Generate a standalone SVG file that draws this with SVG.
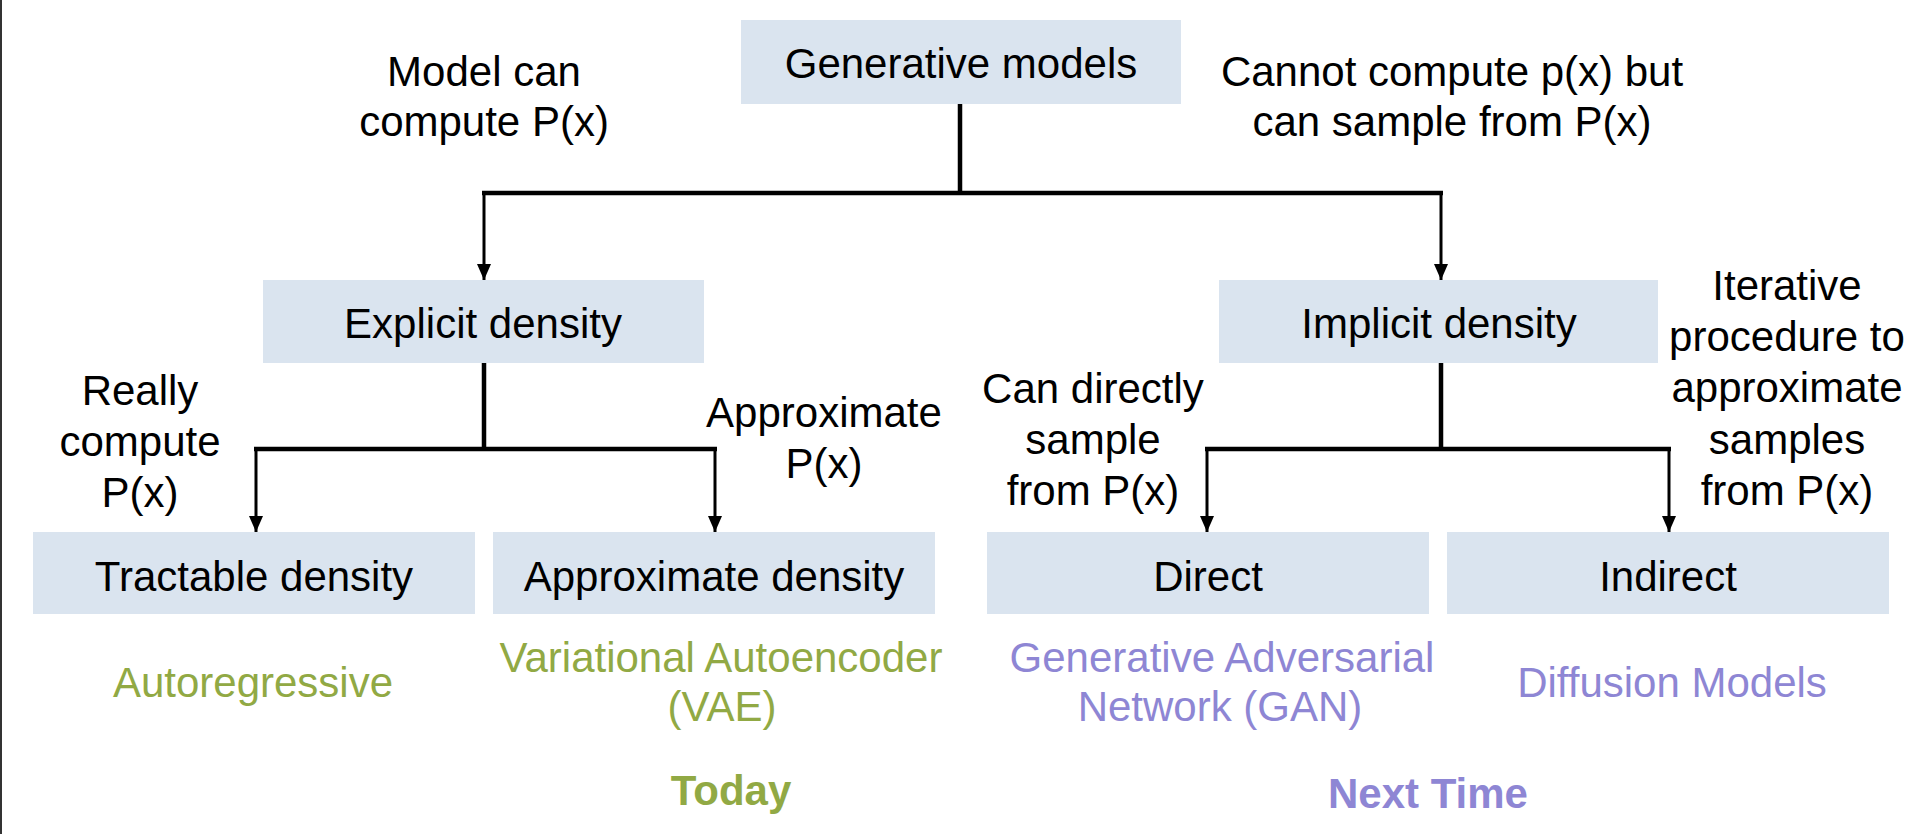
<svg xmlns="http://www.w3.org/2000/svg" width="1914" height="834" viewBox="0 0 1914 834">
<style>
.box{fill:#DAE4EF;}
.t{font-family:"Liberation Sans",Arial,sans-serif;font-size:42px;fill:#000;text-anchor:middle;}
.g{fill:#91A944;}
.p{fill:#8E86D4;}
.b{font-weight:bold;}
.trunk{stroke:#000;stroke-width:4.5;fill:none;stroke-linejoin:miter;}
.drop{stroke:#000;stroke-width:3;fill:none;}
</style>
<defs>
<marker id="ah" viewBox="0 0 16 14" refX="16" refY="7" markerWidth="16" markerHeight="14" markerUnits="userSpaceOnUse" orient="auto">
<path d="M0,0 L16,7 L0,14 z" fill="#000"/>
</marker>
</defs>
<rect x="0" y="0" width="1914" height="834" fill="#fff"/>
<line x1="1" y1="0" x2="1" y2="834" stroke="#333" stroke-width="2"/>

<g id="connectors">
<path class="trunk" d="M960,104 V193 M482,193 H1443"/>
<line class="drop" x1="484" y1="193" x2="484" y2="280" marker-end="url(#ah)"/>
<line class="drop" x1="1441" y1="193" x2="1441" y2="280" marker-end="url(#ah)"/>
<path class="trunk" d="M484,363 V449 M254,449 H717"/>
<line class="drop" x1="256" y1="449" x2="256" y2="532" marker-end="url(#ah)"/>
<line class="drop" x1="715" y1="449" x2="715" y2="532" marker-end="url(#ah)"/>
<path class="trunk" d="M1441,363 V449 M1205,449 H1671"/>
<line class="drop" x1="1207" y1="449" x2="1207" y2="532" marker-end="url(#ah)"/>
<line class="drop" x1="1669" y1="449" x2="1669" y2="532" marker-end="url(#ah)"/>
</g>

<g id="generative">
<rect class="box" x="741" y="20" width="440" height="84"/>
<text class="t" x="961" y="78">Generative models</text>
</g>
<g id="explicit">
<rect class="box" x="263" y="280" width="441" height="83"/>
<text class="t" x="483" y="338">Explicit density</text>
</g>
<g id="implicit">
<rect class="box" x="1219" y="280" width="439" height="83"/>
<text class="t" x="1439" y="338">Implicit density</text>
</g>
<g id="tractable">
<rect class="box" x="33" y="532" width="442" height="82"/>
<text class="t" x="254" y="591">Tractable density</text>
</g>
<g id="approximate">
<rect class="box" x="493" y="532" width="442" height="82"/>
<text class="t" x="714" y="591">Approximate density</text>
</g>
<g id="direct">
<rect class="box" x="987" y="532" width="442" height="82"/>
<text class="t" x="1208" y="591">Direct</text>
</g>
<g id="indirect">
<rect class="box" x="1447" y="532" width="442" height="82"/>
<text class="t" x="1668" y="591">Indirect</text>
</g>

<g id="labels">
<text class="t" x="484" y="86">Model can</text>
<text class="t" x="484" y="136">compute P(x)</text>
<text class="t" x="1452" y="86">Cannot compute p(x) but</text>
<text class="t" x="1452" y="136">can sample from P(x)</text>
<text class="t" x="140" y="405">Really</text>
<text class="t" x="140" y="456">compute</text>
<text class="t" x="140" y="507">P(x)</text>
<text class="t" x="824" y="427">Approximate</text>
<text class="t" x="824" y="478">P(x)</text>
<text class="t" x="1093" y="403">Can directly</text>
<text class="t" x="1093" y="454">sample</text>
<text class="t" x="1093" y="505">from P(x)</text>
<text class="t" x="1787" y="300">Iterative</text>
<text class="t" x="1787" y="351">procedure to</text>
<text class="t" x="1787" y="402">approximate</text>
<text class="t" x="1787" y="454">samples</text>
<text class="t" x="1787" y="505">from P(x)</text>
</g>

<g id="examples">
<text class="t g" x="253" y="697">Autoregressive</text>
<text class="t g" x="721" y="672">Variational Autoencoder</text>
<text class="t g" x="722" y="721">(VAE)</text>
<text class="t g b" x="731" y="805">Today</text>
<text class="t p" x="1222" y="672">Generative Adversarial</text>
<text class="t p" x="1220" y="721">Network (GAN)</text>
<text class="t p" x="1672" y="697">Diffusion Models</text>
<text class="t p b" x="1428" y="808">Next Time</text>
</g>
</svg>
